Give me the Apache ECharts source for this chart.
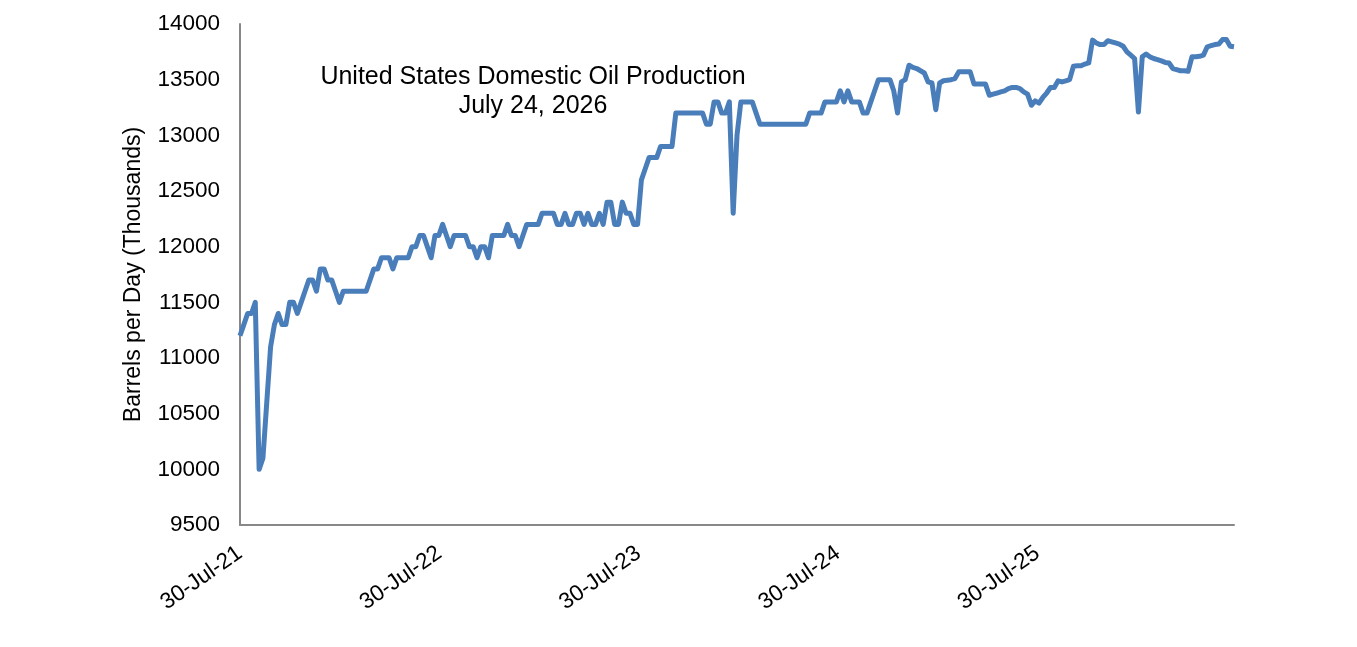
<!DOCTYPE html>
<html>
<head>
<meta charset="utf-8">
<script src="https://cdn.jsdelivr.net/npm/echarts@6/dist/echarts.min.js"></script>
<style>
html,body{margin:0;padding:0;background:#fff;}
#chart{width:1357px;height:647px;}
</style>
</head>
<body>
<div id="chart"></div>
<script>
// Weekly series starting 30-Jul-2021, ending 24-Jul-2026
const startDate = '2021-07-30';
const xTickLabels = ['30-Jul-21','30-Jul-22','30-Jul-23','30-Jul-24','30-Jul-25'];
const titleLines = ['United States Domestic Oil Production','July 24, 2026'];
const yAxisName = 'Barrels per Day (Thousands)';
const production = [
11200,11300,11400,11400,11500,10000,10100,10600,11100,11300,
11400,11300,11300,11500,11500,11400,11500,11600,11700,11700,
11600,11800,11800,11700,11700,11600,11500,11600,11600,11600,
11600,11600,11600,11600,11700,11800,11800,11900,11900,11900,
11800,11900,11900,11900,11900,12000,12000,12100,12100,12000,
11900,12100,12100,12200,12100,12000,12100,12100,12100,12100,
12000,12000,11900,12000,12000,11900,12100,12100,12100,12100,
12200,12100,12100,12000,12100,12200,12200,12200,12200,12300,
12300,12300,12300,12200,12200,12300,12200,12200,12300,12300,
12200,12300,12200,12200,12300,12200,12400,12400,12200,12200,
12400,12300,12300,12200,12200,12600,12700,12800,12800,12800,
12900,12900,12900,12900,13200,13200,13200,13200,13200,13200,
13200,13200,13100,13100,13300,13300,13200,13200,13300,12300,
13000,13300,13300,13300,13300,13200,13100,13100,13100,13100,
13100,13100,13100,13100,13100,13100,13100,13100,13100,13200,
13200,13200,13200,13300,13300,13300,13300,13400,13300,13400,
13300,13300,13300,13200,13200,13300,13400,13500,13500,13500,
13500,13400,13200,13480,13500,13630,13610,13600,13580,13560,
13480,13470,13230,13470,13490,13495,13500,13510,13570,13570,
13570,13570,13460,13460,13460,13460,13360,13370,13380,13390,
13400,13420,13430,13430,13420,13390,13370,13270,13310,13290,
13340,13380,13430,13430,13490,13480,13490,13500,13620,13625,
13625,13640,13650,13855,13830,13815,13815,13850,13840,13830,
13820,13800,13750,13720,13690,13210,13705,13730,13705,13690,
13680,13668,13655,13650,13600,13590,13580,13580,13575,13705,
13705,13710,13720,13795,13805,13815,13820,13860,13860,13800,
13795
];

// x = days since start (weekly points)
const seriesData = production.map((v, i) => [i * 7, v]);

const chart = echarts.init(document.getElementById('chart'));
const font = 'Liberation Sans, Arial, sans-serif';
chart.setOption({
  animation: false,
  backgroundColor: '#ffffff',
  title: {
    text: titleLines.join('\n'),
    left: 528,
    top: 58,
    textAlign: 'center',
    textStyle: {
      fontFamily: font,
      fontSize: 25,
      fontWeight: 'normal',
      color: '#000',
      lineHeight: 29,
      align: 'center'
    }
  },
  grid: { left: 240, right: 123, top: 24, bottom: 122, containLabel: false },
  xAxis: {
    type: 'value',
    min: 0,
    max: (production.length - 1) * 7,
    interval: 365,
    splitLine: { show: false },
    axisTick: { show: false },
    axisLine: { show: true, lineStyle: { color: '#888888', width: 2 } },
    axisLabel: {
      rotate: 35,
      margin: 26,
      showMaxLabel: false,
      fontFamily: font,
      fontSize: 22.5,
      color: '#000',
      formatter: function (v) {
        const k = Math.round(v / 365);
        return (Math.abs(v - k * 365) < 1 && xTickLabels[k]) ? xTickLabels[k] : '';
      }
    }
  },
  yAxis: {
    type: 'value',
    min: 9500,
    max: 14000,
    interval: 500,
    name: yAxisName,
    nameLocation: 'middle',
    nameGap: 95,
    nameTextStyle: { fontFamily: font, fontSize: 23, color: '#000' },
    splitLine: { show: false },
    axisTick: { show: false },
    axisLine: { show: true, lineStyle: { color: '#888888', width: 2 } },
    axisLabel: {
      margin: 20, fontFamily: font, fontSize: 22.5, color: '#000',
      formatter: function (v) { return String(v); }
    }
  },
  series: [{
    type: 'line',
    data: seriesData,
    showSymbol: false,
    symbol: 'none',
    lineStyle: { color: '#4a7ebb', width: 5, join: 'round' },
    itemStyle: { color: '#4a7ebb' }
  }]
});
</script>
</body>
</html>
